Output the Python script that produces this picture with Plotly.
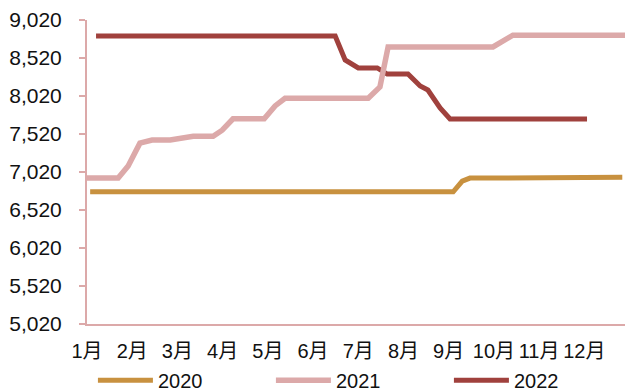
import plotly.graph_objects as go

# x positions in months since 1 Jan (0 = start of 1月)
x_2020 = [0.07, 8.10, 8.30, 8.47, 11.84]
y_2020 = [6760, 6760, 6900, 6940, 6950]

x_2021 = [0.0, 0.69, 0.91, 1.17, 1.44, 1.84, 2.35, 2.79, 2.99, 3.23, 3.92,
          4.16, 4.38, 6.22, 6.48, 6.66, 8.98, 9.42, 11.9]
y_2021 = [6940, 6940, 7100, 7400, 7440, 7440, 7490, 7490, 7570, 7720, 7720,
          7890, 7990, 7990, 8140, 8665, 8665, 8820, 8820]

x_2022 = [0.2, 5.49, 5.71, 6.0, 6.42, 6.64, 7.1, 7.37, 7.54, 7.81, 8.03, 11.06]
y_2022 = [8810, 8810, 8494, 8389, 8389, 8309, 8309, 8151, 8099, 7862, 7717, 7717]

month_labels = ["1月", "2月", "3月", "4月", "5月", "6月",
                "7月", "8月", "9月", "10月", "11月", "12月"]
y_ticks = [5020, 5520, 6020, 6520, 7020, 7520, 8020, 8520, 9020]

C2020 = "#C8913F"
C2021 = "#DCA9A9"
C2022 = "#A0413D"

fig = go.Figure()

fig.add_trace(go.Scatter(x=x_2020, y=y_2020, mode="lines", name="2020",
                         line=dict(color=C2020, width=5), legendrank=1))
fig.add_trace(go.Scatter(x=x_2022, y=y_2022, mode="lines", name="2022",
                         line=dict(color=C2022, width=5), legendrank=3))
fig.add_trace(go.Scatter(x=x_2021, y=y_2021, mode="lines", name="2021",
                         line=dict(color=C2021, width=5.5), legendrank=2))

fig.update_layout(
    width=625,
    height=392,
    margin=dict(l=87, r=0, t=20, b=68, autoexpand=False),
    paper_bgcolor="white",
    plot_bgcolor="white",
    font=dict(family="Liberation Sans, Arial, Noto Sans CJK SC", size=20, color="#111111"),
    xaxis=dict(
        range=[0, 11.9],
        tickmode="array",
        tickvals=list(range(12)),
        ticktext=month_labels,
        showgrid=False,
        zeroline=False,
        showline=True,
        linecolor=C2021,
        linewidth=2,
        ticks="",
        ticklabelstandoff=8,
        tickfont=dict(size=20),
        automargin=False,
    ),
    yaxis=dict(
        range=[5020, 9020],
        tickmode="array",
        tickvals=y_ticks,
        tickformat=",d",
        showgrid=False,
        zeroline=False,
        showline=True,
        linecolor=C2021,
        linewidth=2,
        ticks="outside",
        ticklen=6,
        tickcolor=C2021,
        tickwidth=2,
        ticklabelstandoff=13,
        tickfont=dict(size=21),
        automargin=False,
    ),
    legend=dict(
        orientation="h",
        x=0.011,
        xanchor="left",
        y=-0.185,
        yanchor="middle",
        itemwidth=55,
        entrywidth=108,
        entrywidthmode="pixels",
        traceorder="normal",
        font=dict(size=20),
        bgcolor="rgba(0,0,0,0)",
    ),
    showlegend=True,
)

# drop the default page margin so the figure sits at the window's corner
fig.write_html(
    "out.html",
    config={"displayModeBar": False},
    post_script="document.body.style.margin='0';",
)
